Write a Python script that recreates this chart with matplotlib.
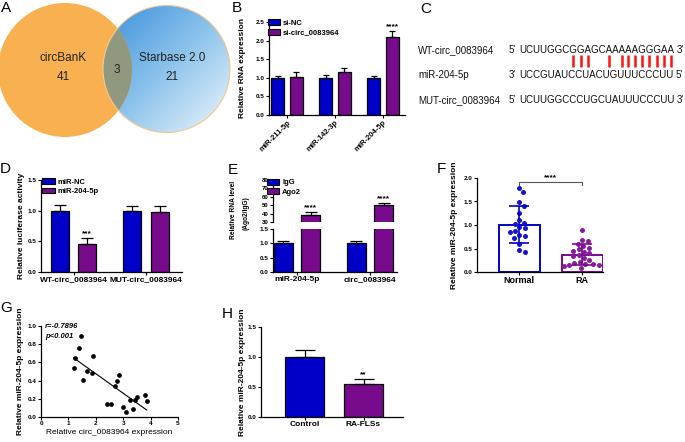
import numpy as np
import matplotlib
matplotlib.use('Agg')
import matplotlib.pyplot as plt
from matplotlib.patches import Circle, Patch
from matplotlib.colors import LinearSegmentedColormap
from matplotlib.ticker import FormatStrFormatter
from matplotlib.font_manager import FontProperties

plt.rcParams['font.family'] = ['Liberation Sans', 'DejaVu Sans']
plt.rcParams['font.weight'] = 'bold'

BLUE = '#0000C8'
PURPLE = '#780A8C'

# A - venn
venn_names = ['circBanK', 'Starbase 2.0']
venn_counts = [41, 3, 21]

# B
b_groups = ['miR-211-5p', 'miR-142-3p', 'miR-204-5p']
b_labels = ['si-NC', 'si-circ_0083964']
b_sinc = [1.0, 1.0, 1.0]
b_sinc_err = [0.05, 0.08, 0.04]
b_sicirc = [1.03, 1.15, 2.1]
b_sicirc_err = [0.12, 0.10, 0.15]
b_stars = ['', '', '****']

# C
c_names = ['WT-circ_0083964', 'miR-204-5p', 'MUT-circ_0083964']
c_seqs = ['UCUUGGCGGAGCAAAAAGGGAA', 'UCCGUAUCCUACUGUUUCCCUU', 'UCUUGGCCCUGCUAUUUCCCUU']
c_ends = [("5'", "3'"), ("3'", "5'"), ("5'", "3'")]

# D
d_groups = ['WT-circ_0083964', 'MUT-circ_0083964']
d_labels = ['miR-NC', 'miR-204-5p']
d_nc = [1.0, 1.0]
d_nc_err = [0.10, 0.07]
d_mir = [0.46, 0.98]
d_mir_err = [0.10, 0.09]
d_stars = ['***', '']

# E
e_groups = ['miR-204-5p', 'circ_0083964']
e_labels = ['IgG', 'Ago2']
e_igg = [1.0, 1.0]
e_igg_err = [0.07, 0.09]
e_ago = [38, 50]
e_ago_err = [4, 3]

# F
f_groups = ['Normal', 'RA']
f_normal = [1.78, 1.70, 1.48, 1.41, 1.25, 1.10, 1.05, 1.03, 0.95, 0.93, 0.87,
            0.86, 0.79, 0.76, 0.73, 0.60, 0.46, 0.42]
f_ra = [0.90, 0.68, 0.66, 0.60, 0.55, 0.52, 0.48, 0.45, 0.42, 0.40, 0.36,
        0.33, 0.30, 0.25, 0.22, 0.20, 0.18, 0.16, 0.15, 0.14, 0.12, 0.08]

# G
g_x = [1.45, 1.40, 1.24, 1.19, 1.55, 1.67, 1.89, 1.85, 2.69, 2.79, 2.85,
       2.41, 2.54, 2.98, 3.09, 3.25, 3.35, 3.44, 3.51, 3.80, 3.86]
g_y = [0.89, 0.76, 0.65, 0.54, 0.41, 0.51, 0.67, 0.48, 0.34, 0.40, 0.46,
       0.14, 0.14, 0.11, 0.06, 0.19, 0.09, 0.19, 0.22, 0.24, 0.18]
g_text = ['r=-0.7896', 'p<0.001']

# H
h_groups = ['Control', 'RA-FLSs']
h_vals = [1.0, 0.55]
h_err = [0.12, 0.08]
h_stars = ['', '**']

W, H = 685, 442
fig = plt.figure(figsize=(W / 100, H / 100), dpi=100)

ov = fig.add_axes([0, 0, 1, 1])
ov.axis('off')


def px_axes(l, t, r, b):
    ax = fig.add_axes([l / W, 1 - b / H, (r - l) / W, (b - t) / H])
    ax.set_facecolor('none')
    for s in ['top', 'right']:
        ax.spines[s].set_visible(False)
    for s in ['left', 'bottom']:
        ax.spines[s].set_linewidth(0.9)
    ax.tick_params(labelsize=4.6, length=2, width=0.8, pad=1)
    return ax


def ylab(ax, text, xpx, l, r, fs=6):
    ax.set_ylabel(text, fontsize=fs, fontweight='bold', va='center')
    ax.yaxis.set_label_coords((xpx - l) / (r - l), 0.5)


def legend(ax, labels, x0=0.0, y0=1.02):
    hs = [Patch(fc=c, ec='black', lw=0.8) for c in (BLUE, PURPLE)]
    ax.legend(hs, labels, loc='upper left', bbox_to_anchor=(x0, y0), frameon=False,
              fontsize=5.5, handlelength=1.6, handleheight=0.8, borderpad=0,
              borderaxespad=0, labelspacing=0.25, handletextpad=0.4)


def grouped(ax, a, a_err, b, b_err, w, off, cap):
    x = np.arange(len(a))
    kw = dict(elinewidth=0.9, capthick=0.9)
    ax.bar(x - off, a, w, color=BLUE, ec='black', lw=0.9,
           yerr=[np.zeros(len(a)), a_err], capsize=cap, error_kw=kw)
    ax.bar(x + off, b, w, color=PURPLE, ec='black', lw=0.9,
           yerr=[np.zeros(len(b)), b_err], capsize=cap, error_kw=kw)
    return x


# ---- A
cb = Circle((65, 70), 67, fc='#F9B050', ec='none')
ov.add_patch(cb)
sb = Circle((166.5, 69), 63.5, fc='none', ec='none')
ov.add_patch(sb)
gx, gy = np.meshgrid(np.linspace(0, 1, 200), np.linspace(0, 1, 200))
cmap = LinearSegmentedColormap.from_list('sb', ['#3A8FDB', '#8CC3EC', '#EEF6FC'])
im = ov.imshow((gx + gy) / 2, cmap=cmap, extent=(103, 230, 132.5, 5.5),
               origin='upper', interpolation='bilinear')
im.set_clip_path(sb)
ov_c = Circle((65, 70), 67, fc='#7E9488', ec='none', alpha=0.85)
ov.add_patch(ov_c)
ov_c.set_clip_path(sb)
ov.add_patch(Circle((166.5, 69), 63.5, fc='none', ec='#F3C88C', lw=0.8))
ov.set_xlim(0, W)
ov.set_ylim(H, 0)
ov.set_aspect('auto')
vt = dict(ha='center', va='center', fontsize=8.5, fontweight='normal', color='#222222')
ov.text(63, 58, venn_names[0], **vt)
ov.text(63, 77, str(venn_counts[0]), **vt)
ov.text(117, 70, str(venn_counts[1]), **vt)
ov.text(172, 58, venn_names[1], **vt)
ov.text(172, 77, str(venn_counts[2]), **vt)

# ---- B
l, t, r, b = 269, 22, 405, 115
axB = px_axes(l, t, r, b)
x = grouped(axB, b_sinc, b_sinc_err, b_sicirc, b_sicirc_err, 0.26, 0.195, 2.5)
for i, s in enumerate(b_stars):
    if s:
        axB.text(x[i] + 0.195, b_sicirc[i] + b_sicirc_err[i] + 0.03, s,
                 ha='center', va='bottom', fontsize=6)
axB.set_xlim(-0.375, 2.46)
axB.set_ylim(0, 2.5)
axB.set_yticks(np.arange(0, 2.51, 0.5))
axB.yaxis.set_major_formatter(FormatStrFormatter('%.1f'))
axB.set_xticks(x)
axB.set_xticklabels(b_groups, rotation=45, ha='right', rotation_mode='anchor', fontsize=5.5)
ylab(axB, 'Relative RNA expression', 243, l, r)
legend(axB, b_labels, -0.01, 1.03)

# ---- C  (ends, sequence as separate strings; pairing ticks under the characters)
pairs = {('A', 'U'), ('U', 'A'), ('G', 'C'), ('C', 'G')}
rows_y = [50, 75, 100]
seq_x = 509
cfont = FontProperties(family=['Liberation Sans'], size=7, weight='normal')
ct = dict(va='center', ha='left', fontproperties=cfont, color='#111111')
rend = fig.canvas.get_renderer()


def tw(s):
    if not s:
        return 0.0
    return rend.get_text_width_height_descent(s, cfont, ismath=False)[0]


space = tw('U U') - tw('UU')
seq_starts = []
for name, seq, (p5, p3), yy in zip(c_names, c_seqs, c_ends, rows_y):
    ov.text(418, yy, name, **ct)
    ov.text(seq_x, yy, p5, **ct)
    xs0 = seq_x + tw(p5) + space
    seq_starts.append(xs0)
    ov.text(xs0, yy, seq, **ct)
    ov.text(xs0 + tw(seq) + space, yy, p3, **ct)

idx = [i for i, (a, bb) in enumerate(zip(c_seqs[0], c_seqs[1])) if (a, bb) in pairs]
xs_pair = [seq_starts[0] + tw(c_seqs[0][:i + 1]) - tw(c_seqs[0][i]) / 2 for i in idx]
ov.vlines(xs_pair, 55, 67, color='#FF1010', lw=1.8)

# ---- D
l, t, r, b = 41, 180, 182, 272
axD = px_axes(l, t, r, b)
x = grouped(axD, d_nc, d_nc_err, d_mir, d_mir_err, 0.25, 0.19, 4)
for i, s in enumerate(d_stars):
    if s:
        axD.text(x[i] + 0.19, d_mir[i] + d_mir_err[i] + 0.01, s,
                 ha='center', va='bottom', fontsize=6)
axD.set_xlim(-0.45, 1.5)
axD.set_ylim(0, 1.5)
axD.set_yticks([0, 0.5, 1.0, 1.5])
axD.yaxis.set_major_formatter(FormatStrFormatter('%.1f'))
axD.set_xticks(x)
axD.set_xticklabels(d_groups, fontsize=6)
ylab(axD, 'Relative luciferase activity', 22, l, r)
legend(axD, d_labels, 0.01, 1.02)

# ---- E
l, r = 273, 397
axE1 = px_axes(l, 180, r, 222)
axE2 = px_axes(l, 229, r, 272)
for ax in (axE1, axE2):
    x = grouped(ax, e_igg, e_igg_err, e_ago, e_ago_err, 0.26, 0.19, 4)
    ax.set_xlim(-0.33, 1.37)
axE1.set_ylim(30, 80)
axE1.set_yticks(np.arange(30, 81, 10))
axE1.spines['bottom'].set_visible(False)
axE1.set_xticks([])
axE1.tick_params(labelsize=4.3, pad=1)
for i in range(len(e_ago)):
    axE1.text(x[i] + 0.19, e_ago[i] + e_ago_err[i] + 1, '****',
              ha='center', va='bottom', fontsize=6)
axE2.set_ylim(0, 1.5)
axE2.set_yticks([0, 0.5, 1.0, 1.5])
axE2.yaxis.set_major_formatter(FormatStrFormatter('%.1f'))
axE2.set_xticks(x)
axE2.set_xticklabels(e_groups, fontsize=6)
legend(axE1, e_labels, -0.05, 1.03)
ov.text(234, 210, 'Relative RNA level', rotation=90, ha='center', va='center',
        fontsize=4.8, fontweight='bold')
ov.text(246, 213, '(Ago2/IgG)', rotation=90, ha='center', va='center',
        fontsize=4.8, fontweight='bold')

# ---- F
l, t, r, b = 477, 178, 603, 272
axF = px_axes(l, t, r, b)
xpu, ypu = (r - l) / 2.0, (b - t) / 2.0


def swarm(vals, d=5.4):
    vals = np.asarray(vals)
    out = np.zeros(len(vals))
    placed = []
    cands = [0.0]
    for k in range(1, 40):
        cands += [k * 0.5, -k * 0.5]
    for i in np.argsort(vals)[::-1]:
        yp = vals[i] * ypu
        for c in cands:
            if all((c - px) ** 2 + (yp - py) ** 2 >= d * d for px, py in placed):
                break
        placed.append((c, yp))
        out[i] = c / xpu
    return out


f_sets = [f_normal, f_ra]
f_cols = [BLUE, PURPLE]
f_dot = ['#1515D0', '#8A1A9E']
for i, (vals, col, dc) in enumerate(zip(f_sets, f_cols, f_dot)):
    m, sd = np.mean(vals), np.std(vals, ddof=1)
    axF.bar(i, m, 0.65, fc='white', ec=col, lw=1.4, zorder=1)
    axF.plot(i + swarm(vals), vals, 'o', color=dc, ms=3.6, mec='none', zorder=3)
    axF.errorbar(i, m, yerr=sd, color=col, capsize=7, elinewidth=1.2,
                 capthick=1.2, zorder=4)
axF.plot([0, 0, 1, 1], [1.86, 1.92, 1.92, 1.86], color='#555555', lw=0.8, clip_on=False)
axF.text(0.5, 1.94, '****', ha='center', va='bottom', fontsize=6, clip_on=False)
axF.set_xlim(-0.67, 1.33)
axF.set_ylim(0, 2.0)
axF.set_yticks([0, 0.5, 1.0, 1.5, 2.0])
axF.yaxis.set_major_formatter(FormatStrFormatter('%.1f'))
axF.set_xticks([0, 1])
axF.set_xticklabels(f_groups, fontsize=6.5)
ylab(axF, 'Relative miR-204-5p expression', 455, l, r)

# ---- G
l, t, r, b = 41, 326, 178, 417
axG = px_axes(l, t, r, b)
axG.plot(g_x, g_y, 'o', color='black', ms=3.4, mec='none')
k, c0 = np.polyfit(g_x, g_y, 1)
xx = np.array([min(g_x), max(g_x)])
axG.plot(xx, k * xx + c0, color='black', lw=0.8)
axG.text(0.15, 0.99, g_text[0], fontsize=5.5, style='italic', va='center')
axG.text(0.15, 0.88, g_text[1], fontsize=5.5, style='italic', va='center')
axG.set_xlim(0, 5)
axG.set_ylim(0, 1.0)
axG.set_xticks(range(6))
axG.set_yticks(np.arange(0, 1.01, 0.2))
axG.yaxis.set_major_formatter(FormatStrFormatter('%.1f'))
axG.set_xlabel('Relative circ_0083964 expression', fontsize=6, labelpad=2)
ylab(axG, 'Relative miR-204-5p expression', 21, l, r)

# ---- H
l, t, r, b = 261, 327, 403, 417
axH = px_axes(l, t, r, b)
axH.bar([0, 1], h_vals, 0.66, color=[BLUE, PURPLE], ec='black', lw=0.9,
        yerr=[np.zeros(2), h_err], capsize=7, error_kw=dict(elinewidth=0.9, capthick=0.9))
for i, s in enumerate(h_stars):
    if s:
        axH.text(i, h_vals[i] + h_err[i] + 0.01, s, ha='center', va='bottom', fontsize=6)
axH.set_xlim(-0.74, 1.67)
axH.set_ylim(0, 1.5)
axH.set_yticks([0, 0.5, 1.0, 1.5])
axH.yaxis.set_major_formatter(FormatStrFormatter('%.1f'))
axH.set_xticks([0, 1])
axH.set_xticklabels(h_groups, fontsize=6)
ylab(axH, 'Relative miR-204-5p expression', 243, l, r)

# panel letters
for letter, (lx, ly) in zip('ABCDEFGH', [(1, 1), (232, 1), (420, 2), (0, 162),
                                          (228, 163), (437, 162), (0, 301), (222, 307)]):
    ov.text(lx, ly, letter, ha='left', va='top', fontsize=11, fontweight='normal')

fig.savefig('out.png', dpi=100)
